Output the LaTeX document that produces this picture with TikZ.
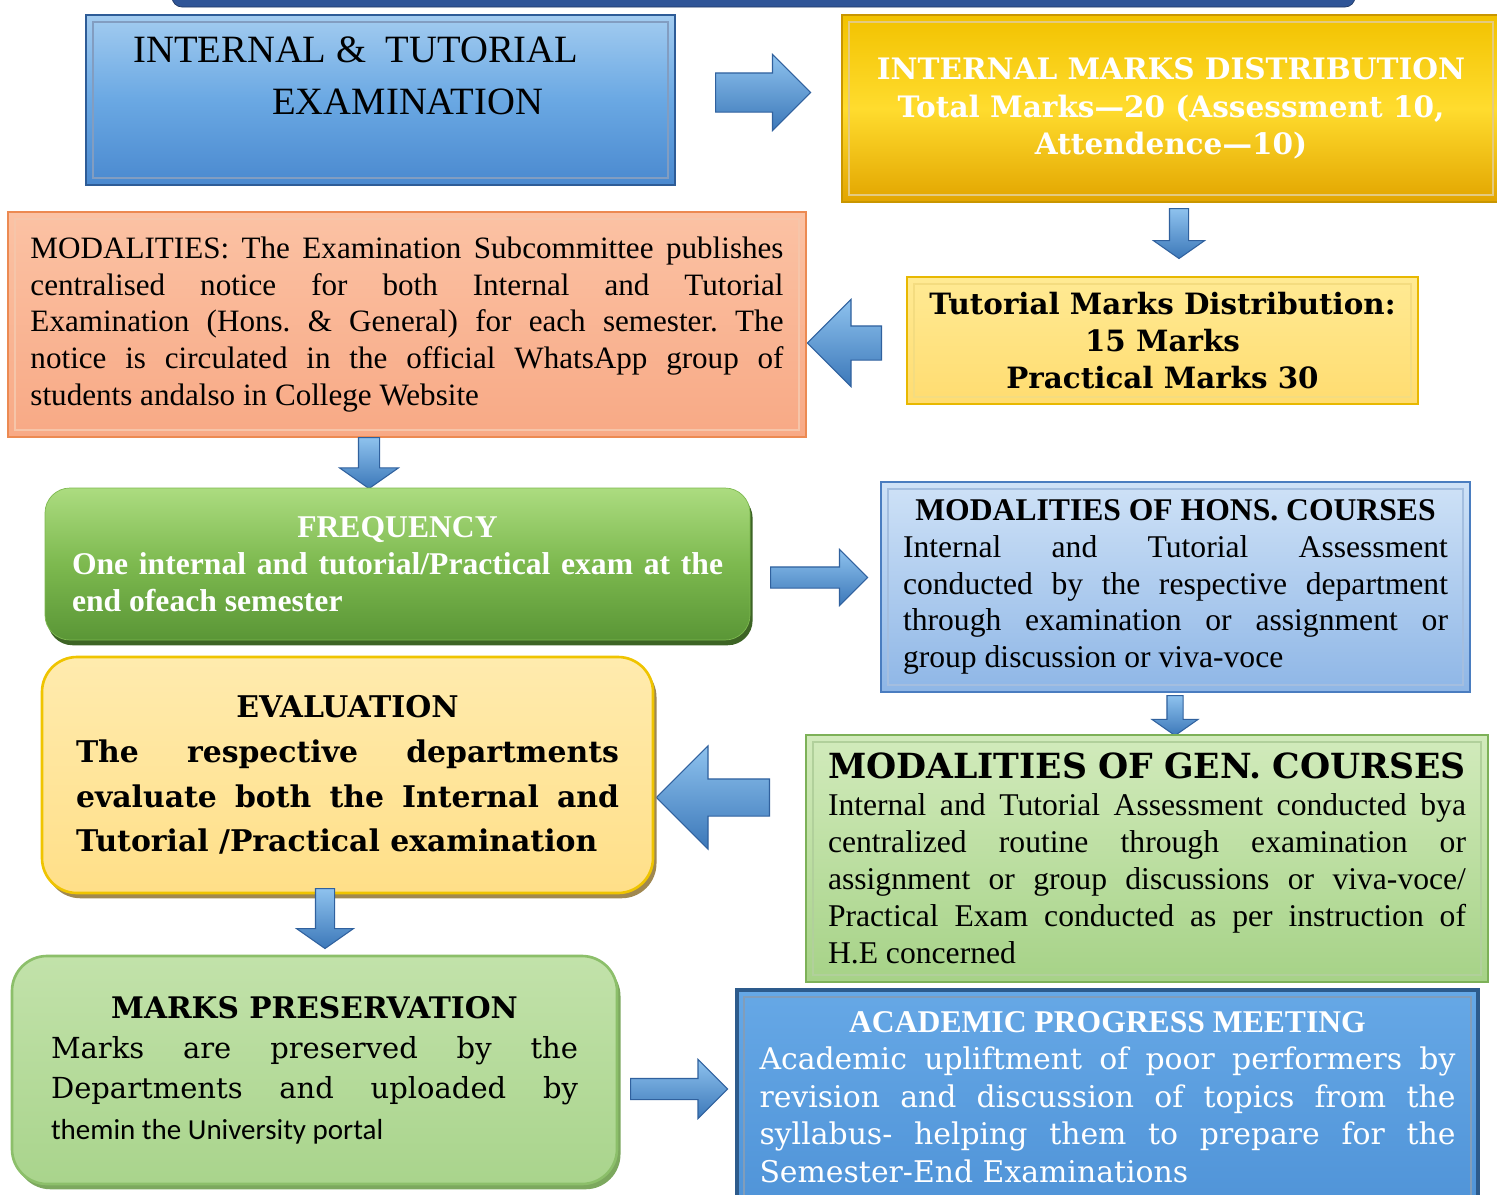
\documentclass[tikz,border=0pt]{standalone}
\usepackage{fontspec}
\setmainfont{Liberation Serif}
\newfontfamily\bookfont{DejaVu Serif}
\newfontfamily\calfont{Carlito}
\usetikzlibrary{shapes.arrows,shadows}
\setlength\parindent{0pt}

\definecolor{navy}{HTML}{2F5597}
\definecolor{navyline}{HTML}{1F3864}
\definecolor{examtop}{HTML}{A3CCF0}
\definecolor{exammid}{HTML}{6AA8E3}
\definecolor{exambot}{HTML}{4A89CF}
\definecolor{examline}{HTML}{2E5C97}
\definecolor{goldtop}{HTML}{F2C200}
\definecolor{goldmid}{HTML}{FFDC2E}
\definecolor{goldbot}{HTML}{E2A500}
\definecolor{goldline}{HTML}{C99600}
\definecolor{tuttop}{HTML}{FFEA94}
\definecolor{tutbot}{HTML}{FFDC70}
\definecolor{tutline}{HTML}{E8B800}
\definecolor{saltop}{HTML}{FBC2A4}
\definecolor{salbot}{HTML}{F8A985}
\definecolor{salline}{HTML}{EC8A52}
\definecolor{grtop}{HTML}{ACDC80}
\definecolor{grmid}{HTML}{7DB94F}
\definecolor{grbot}{HTML}{5A9636}
\definecolor{grdark}{HTML}{3D6425}
\definecolor{htop}{HTML}{CFE2F7}
\definecolor{hbot}{HTML}{8EB6E6}
\definecolor{hline}{HTML}{4A7DC0}
\definecolor{gtop}{HTML}{D2EBBC}
\definecolor{gbot}{HTML}{A6D287}
\definecolor{gline}{HTML}{7DB158}
\definecolor{evtop}{HTML}{FFEBAE}
\definecolor{evbot}{HTML}{FFDF88}
\definecolor{evline}{HTML}{EFC400}
\definecolor{evdark}{HTML}{A08850}
\definecolor{prtop}{HTML}{C2E2AA}
\definecolor{prbot}{HTML}{A9D48C}
\definecolor{prline}{HTML}{8CBF6A}
\definecolor{prdark}{HTML}{7CA85E}
\definecolor{actop}{HTML}{66A8E6}
\definecolor{acbot}{HTML}{5094D8}
\definecolor{acline}{HTML}{2D5B8C}
\definecolor{arrowtop}{HTML}{8EC2EE}
\definecolor{arrowbot}{HTML}{3C78B9}
\definecolor{arrowline}{HTML}{30619E}

\begin{document}
\begin{tikzpicture}[x=0.2mm,y=-0.2mm,
	box/.style={rectangle, inner sep=0pt, align=justify},
	bevel/.style={path picture={\draw[#1,line width=0.8pt] ([shift={(4pt,-4pt)}]path picture bounding box.north west) rectangle ([shift={(-4pt,4pt)}]path picture bounding box.south east);}},
	blk/.style={single arrow, anchor=tail, draw=arrowline, line width=0.6pt, top color=arrowtop, bottom color=arrowbot},
	blkdown/.style={blk, shape border rotate=270, single arrow tip angle=110}]
	\clip (0,0) rectangle (1497,1195);
	\fill[white] (0,0) rectangle (1497,1195);
	\node[rectangle, rounded corners=2mm, fill=navy, draw=navyline, inner sep=0pt, minimum width=1183*0.2mm, minimum height=40*0.2mm] (topbar) at (763.5,-13) {};
	% first row
	\node[box, minimum width=589*0.2mm, minimum height=170*0.2mm, draw=examline, line width=1pt, top color=examtop, bottom color=exambot, middle color=exammid, bevel=examline!60] (exam) at (380.5,100) {};
	\node[anchor=west, inner sep=0pt, align=left, font=\fontsize{22}{29.5}\selectfont] (examtext) at (133,76) {INTERNAL \& \ TUTORIAL\\\hspace*{27.8mm}EXAMINATION};
	\node[box, align=center, minimum width=658*0.2mm, minimum height=187*0.2mm, draw=goldline, line width=1pt, top color=goldtop, bottom color=goldbot, middle color=goldmid, bevel=goldline!50, text=white, font=\bookfont\bfseries\fontsize{16.8}{21.3}\selectfont] (marks) at (1171,108.5) {INTERNAL MARKS DISTRIBUTION\\Total Marks—20 (Assessment 10,\\Attendence—10)};
	\node[blk, inner sep=3.8mm, minimum height=19mm, single arrow head extend=3.7mm] (a1) at (715,92.5) {};
	% second row
	\node[blkdown, inner sep=1.8mm, minimum height=10mm, single arrow head extend=3.2mm] (a2) at (1179,208) {};
	\node[box, align=center, minimum width=511*0.2mm, minimum height=127*0.2mm, draw=tutline, line width=1.2pt, top color=tuttop, bottom color=tutbot, bevel=tutline!50, font=\bookfont\bfseries\fontsize{16.7}{21.3}\selectfont] (tutor) at (1162.5,340.5) {Tutorial Marks Distribution:\\15 Marks\\Practical Marks 30};
	\node[blk, shape border rotate=180, inner sep=3.3mm, minimum height=14.8mm, single arrow head extend=5.3mm] (a3) at (882,343) {};
	\node[box, text width=753*0.2mm, minimum width=798*0.2mm, minimum height=225*0.2mm, draw=salline, line width=1.2pt, top color=saltop, bottom color=salbot, bevel=salline!50, font=\fontsize{17.7}{20.8}\selectfont] (modal) at (407,324.5) {MODALITIES: The Examination Subcommittee publishes\linebreak centralised notice for both Internal and Tutorial\linebreak Examination (Hons.\ \& General) for each semester.\ The\linebreak notice is circulated in the official WhatsApp group of\linebreak students andalso in College Website};
	\node[blkdown, inner sep=2mm, minimum height=10.2mm, single arrow head extend=3.8mm] (a4) at (369,437) {};
	% third row
	\node[box, rounded corners=5mm, text width=651*0.2mm, minimum width=705*0.2mm, minimum height=152*0.2mm, draw=grmid, top color=grtop, bottom color=grbot, middle color=grmid, drop shadow={shadow xshift=1.5pt, shadow yshift=-3pt, fill=grdark, opacity=1}, text=white, font=\bfseries\fontsize{18}{21}\selectfont] (freq) at (397.5,564) {{\centering FREQUENCY\par}One internal and tutorial/Practical exam at the\linebreak end ofeach semester};
	\node[blk, inner sep=2mm, minimum height=19.4mm, single arrow head extend=3.5mm] (a5) at (770,577.5) {};
	\node[box, text width=545*0.2mm, minimum width=589*0.2mm, minimum height=210*0.2mm, draw=hline, line width=1.2pt, top color=htop, bottom color=hbot, bevel=hline!50, font=\fontsize{18}{21}\selectfont] (hons) at (1175.5,587) {{\centering\bfseries MODALITIES OF HONS. COURSES\par}Internal and Tutorial Assessment\linebreak conducted by the respective department\linebreak through examination or assignment or\linebreak group discussion or viva-voce};
	\node[blkdown, inner sep=1.5mm, minimum height=8mm, single arrow head extend=3mm] (a6) at (1175,695) {};
	% fourth row
	\node[box, text width=638*0.2mm, minimum width=682*0.2mm, minimum height=247*0.2mm, draw=gline, line width=1.2pt, top color=gtop, bottom color=gbot, bevel=gline!60, font=\fontsize{18}{21}\selectfont] (gen) at (1147,858.5) {{\centering\bookfont\bfseries\fontsize{19.7}{22}\selectfont MODALITIES OF GEN. COURSES\par}Internal and Tutorial Assessment conducted bya\linebreak centralized routine through examination or\linebreak assignment or group discussions or viva-voce/\linebreak Practical Exam conducted as per instruction of\linebreak H.E concerned};
	\node[blk, shape border rotate=180, inner sep=3.6mm, minimum height=22.6mm, single arrow head extend=6.6mm] (a7) at (770,797.5) {};
	\node[box, rounded corners=7mm, text width=543*0.2mm, minimum width=611*0.2mm, minimum height=236*0.2mm, draw=evline, line width=1.5pt, top color=evtop, bottom color=evbot, drop shadow={shadow xshift=2pt, shadow yshift=-3pt, fill=evdark, opacity=1}, font=\bookfont\bfseries\fontsize{17}{25.5}\selectfont] (eval) at (347.5,775) {{\centering EVALUATION\par}The respective departments\linebreak evaluate both the Internal and\linebreak Tutorial /Practical examination};
	\node[blkdown, inner sep=1.8mm, minimum height=12mm, single arrow head extend=3.8mm] (a8) at (325,888) {};
	% last row
	\node[box, rounded corners=7mm, text width=527*0.2mm, minimum width=605*0.2mm, minimum height=228*0.2mm, draw=prline, line width=1.5pt, top color=prtop, bottom color=prbot, drop shadow={shadow xshift=2pt, shadow yshift=-3pt, fill=prdark, opacity=1}, font=\bookfont\fontsize{16.5}{23}\selectfont] (pres) at (314.5,1070) {{\centering\bfseries\fontsize{16.9}{23}\selectfont MARKS PRESERVATION\par}Marks are preserved by the\linebreak Departments and uploaded by\linebreak {\calfont themin the University portal}};
	\node[blk, inner sep=2mm, minimum height=19.4mm, single arrow head extend=3.8mm] (a9) at (630,1089) {};
	\node[box, text width=696*0.2mm, minimum width=741*0.2mm, minimum height=214*0.2mm, draw=acline, line width=2pt, top color=actop, bottom color=acbot, bevel=acline!60, text=white, font=\bookfont\fontsize{17}{21.3}\selectfont] (acad) at (1107.5,1097) {{\centering\rmfamily\bfseries\fontsize{18}{21.3}\selectfont ACADEMIC PROGRESS MEETING\par}Academic upliftment of poor performers by\linebreak revision and discussion of topics from the\linebreak syllabus- helping them to prepare for the\linebreak Semester-End Examinations};
\end{tikzpicture}
\end{document}
